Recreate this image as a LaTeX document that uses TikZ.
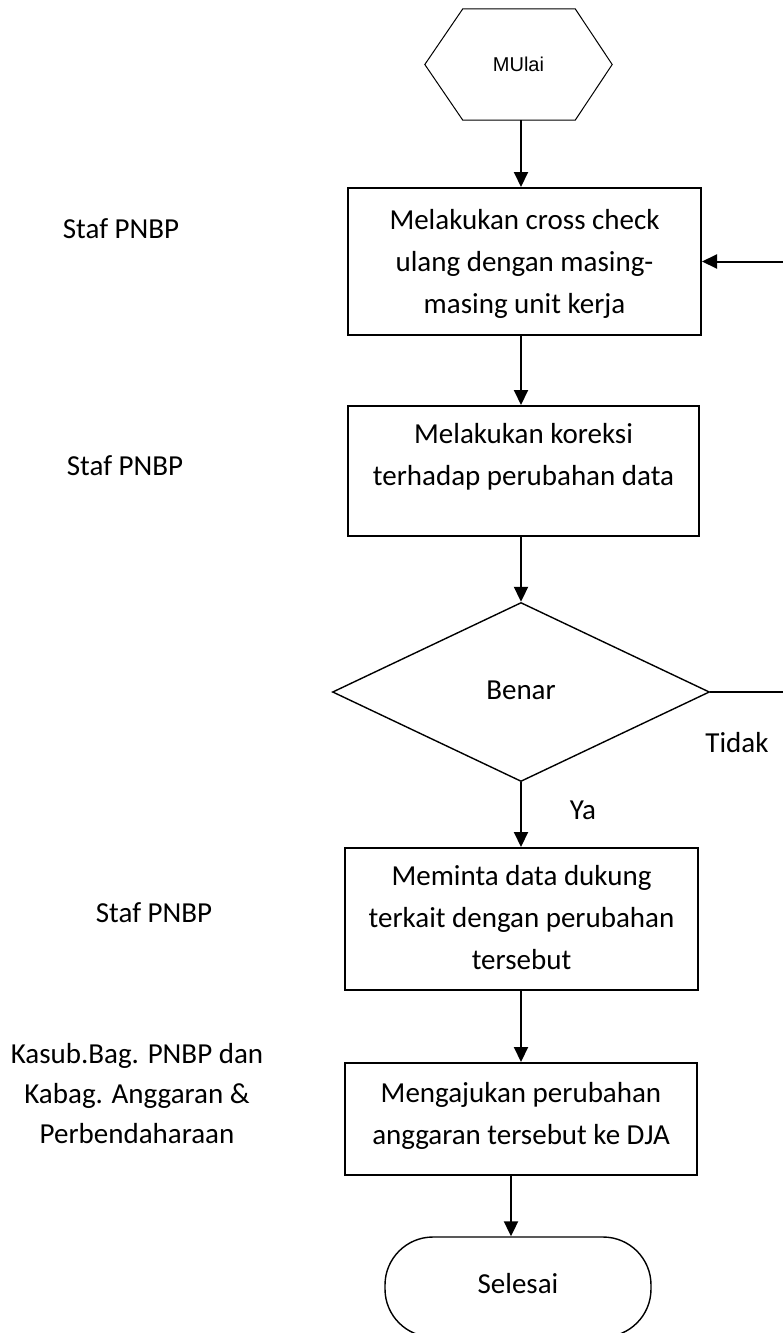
\documentclass[tikz,border=0pt]{standalone}
\usepackage{fontspec}
\setmainfont{Carlito}
\newfontfamily\arialfont{Liberation Sans}
\usetikzlibrary{arrows.meta,shapes.geometric,calc}
\newcommand{\bxt}[4]{\parbox[c][#2][t]{#1}{\centering\fontsize{29}{42}\selectfont\vspace*{#3}\rule{0pt}{21pt}\ignorespaces #4\par}}
\tikzset{
  procbox/.style={draw, line width=2pt, inner sep=0pt, rectangle},
  decision/.style={draw, line width=1.4pt, diamond, inner sep=0pt, minimum width=377pt, minimum height=179pt, font=\fontsize{29}{35}\selectfont},
  terminal/.style={draw, line width=1.4pt, rectangle, rounded corners=48pt, minimum width=266pt, minimum height=100pt, inner sep=0pt, font=\fontsize{29}{35}\selectfont},
  role/.style={inner sep=0pt, align=center, font=\fontsize{29}{40}\selectfont},
  lbl/.style={inner sep=0pt, font=\fontsize{29}{35}\selectfont},
  arr/.style={line width=2pt, -{Triangle[length=15pt,width=14pt]}},
  plain/.style={line width=1.4pt}
}
\begin{document}
\begin{tikzpicture}[x=1pt,y=-1pt]
\useasboundingbox (0,0) rectangle (782,1333);
% start hexagon
\node[inner sep=0pt, minimum width=187pt, minimum height=111pt, font=\arialfont\fontsize{20}{24}\selectfont] (hex) at (518.5,64.5) {MUlai};
\draw[line width=1pt] (hex.west) -- ($(hex.north west)+(38,0)$) -- ($(hex.north east)+(-37,0)$) -- (hex.east) -- ($(hex.south east)+(-37,0)$) -- ($(hex.south west)+(38,0)$) -- cycle;
% process boxes
\node[procbox] (b1) at (524.5,261.5) {\bxt{353pt}{147pt}{20pt}{Melakukan cross check\\ulang dengan masing-\\masing unit kerja}};
\node[procbox] (b2) at (523.5,471) {\bxt{351pt}{130pt}{16pt}{Melakukan koreksi\\terhadap perubahan data}};
\node[decision] (dia) at (521,692) {\raisebox{4pt}{Benar}};
\node[procbox] (b3) at (521.5,919) {\bxt{353pt}{142pt}{16pt}{Meminta data dukung\\terkait dengan perubahan\\tersebut}};
\node[procbox] (b4) at (521,1119) {\bxt{352pt}{112pt}{18pt}{Mengajukan perubahan\\anggaran tersebut ke DJA}};
\node[terminal] (sel) at (518,1287) {\raisebox{7pt}{Selesai}};
% role labels
\node[lbl, anchor=base] (r1) at (121,238) {Staf PNBP};
\node[lbl, anchor=base] (r2) at (125,475) {Staf PNBP};
\node[lbl, anchor=base] (r3) at (154,922) {Staf PNBP};
\node[role, anchor=north] (r4) at (137,1042) {\rule{0pt}{21pt}Kasub.Bag. PNBP dan\\Kabag. Anggaran \&\\Perbendaharaan};
% branch labels
\node[lbl] (tidak) at (737,743) {Tidak};
\node[lbl] (ya) at (583,810) {Ya};
% connectors
\draw[arr] (hex.south -| dia.north) -- (b1.north -| dia.north);
\draw[arr] (b1.south -| dia.north) -- (b2.north -| dia.north);
\draw[arr] (b2.south -| dia.north) -- (dia.north);
\draw[arr] (dia.south) -- (b3.north -| dia.south);
\draw[arr] (b3.south -| dia.south) -- (b4.north -| dia.south);
\draw[arr] ([xshift=-10pt]b4.south) -- ([xshift=-10pt]b4.south |- sel.north);
\coordinate (rt) at (792,692);
\draw[plain] (dia.east) -- (rt);
\draw[arr] (rt) -- (rt |- b1.east) -- (b1.east);
\end{tikzpicture}
\end{document}
